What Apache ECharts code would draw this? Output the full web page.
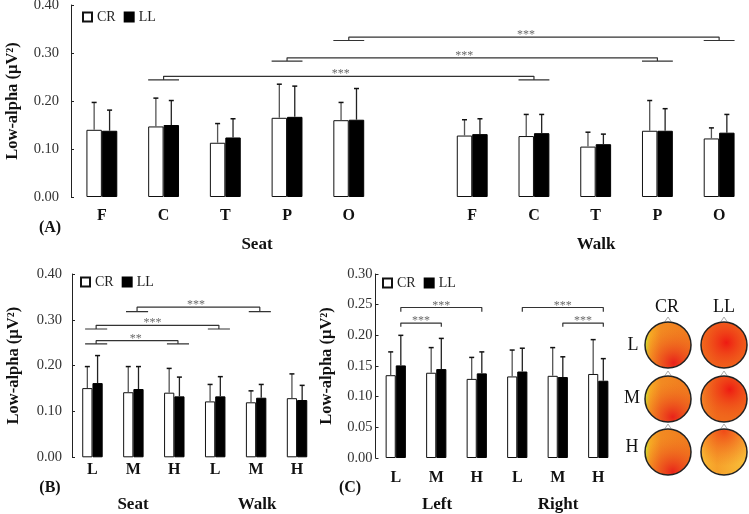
<!DOCTYPE html>
<html>
<head>
<meta charset="utf-8">
<script src="https://cdn.jsdelivr.net/npm/echarts@6/dist/echarts.min.js"></script>
<style>
  html, body { margin: 0; padding: 0; background: #fff; }
  #main { width: 749px; height: 514px; }
</style>
</head>
<body>
<div id="main"></div>
<script>
// ---- panel A : lobes, seat vs walk ('' = empty gap slot)
const catsA = ['F', 'C', 'T', 'P', 'O', '', 'F', 'C', 'T', 'P', 'O']
const crA   = [0.140, 0.147, 0.113, 0.165, 0.160, null, 0.128, 0.127, 0.105, 0.138, 0.122]
const crSdA = [0.057, 0.059, 0.040, 0.070, 0.037, null, 0.033, 0.045, 0.030, 0.063, 0.022]
const llA   = [0.138, 0.150, 0.124, 0.167, 0.161, null, 0.131, 0.133, 0.110, 0.138, 0.134]
const llSdA = [0.043, 0.051, 0.039, 0.064, 0.065, null, 0.032, 0.039, 0.021, 0.046, 0.038]
// [from, to, low, high, starX, stars]
const sigA = [
  [1, 7, 0.244, 0.2515, 3.87, '***'],
  [3, 9, 0.283, 0.290, 5.87, '***'],
  [4, 10, 0.326, 0.333, 6.87, '***']
]

// ---- panel B : load, seat vs walk
const catsB = ['L', 'M', 'H', 'L', 'M', 'H']
const crB   = [0.151, 0.142, 0.141, 0.122, 0.120, 0.129]
const crSdB = [0.047, 0.056, 0.053, 0.037, 0.025, 0.053]
const llB   = [0.162, 0.149, 0.133, 0.133, 0.130, 0.125]
const llSdB = [0.060, 0.049, 0.042, 0.043, 0.029, 0.032]
const sigB = [
  [0, 2, 0.2474, 0.2546, 1.06, '**'],
  [0, 3, 0.280, 0.288, 1.47, '***'],
  [1, 4, 0.318, 0.3275, 2.53, '***']
]

// ---- panel C : load, left vs right
const catsC = ['L', 'M', 'H', 'L', 'M', 'H']
const crC   = [0.135, 0.139, 0.129, 0.133, 0.134, 0.137]
const crSdC = [0.038, 0.041, 0.035, 0.043, 0.046, 0.056]
const llC   = [0.151, 0.145, 0.138, 0.141, 0.132, 0.126]
const llSdC = [0.049, 0.050, 0.035, 0.038, 0.033, 0.036]
const sigC = [
  [0, 2, 0.2383, 0.2454, 1.125, '***'],
  [0, 1, 0.214, 0.220, 0.625, '***'],
  [3, 5, 0.2383, 0.2454, 4.125, '***'],
  [4, 5, 0.214, 0.220, 4.625, '***']
]

const serif = '"Liberation Serif", "Times New Roman", serif'
const yName = 'Low-alpha (µV²)'

const chart = echarts.init(document.getElementById('main'))

// x axes: category (shown) + hidden value axis for brackets / error bars
const catAxis = (grid, data, margin) => ({
  type: 'category', gridIndex: grid, data,
  axisLine: { show: false }, axisTick: { show: false },
  axisLabel: { margin, fontFamily: serif, fontWeight: 'bold', fontSize: 16, color: '#111' }
})
const valAxis = (grid, n) => ({ type: 'value', gridIndex: grid, min: -0.5, max: n - 0.5, show: false })
const yAxis = (grid, max, interval, gap, margin) => ({
  type: 'value', gridIndex: grid, min: 0, max, interval,
  name: yName, nameLocation: 'middle', nameGap: gap,
  nameTextStyle: { fontFamily: serif, fontWeight: 'bold', fontSize: 16.5, color: '#111' },
  axisLine: { show: true, onZero: false, lineStyle: { color: '#222', width: 1 } },
  axisTick: { show: true, inside: true, length: 3, lineStyle: { color: '#222' } },
  splitLine: { show: false },
  axisLabel: { margin, fontFamily: serif, fontSize: 14.5, color: '#333', formatter: v => v.toFixed(2) }
})

const bars = (x, y, cr, ll) => [
  { name: 'CR', type: 'bar', xAxisIndex: x, yAxisIndex: y, data: cr, barWidth: '25%', barGap: '0%',
    itemStyle: { color: '#fff', borderColor: '#111', borderWidth: 1 } },
  { name: 'LL', type: 'bar', xAxisIndex: x, yAxisIndex: y, data: ll, barWidth: '25%', barGap: '0%',
    itemStyle: { color: '#000', borderColor: '#000', borderWidth: 1 } }
]

// error bars (upper half only) drawn on hidden value axis
const errBars = (x, y, means, sds, shift, color) => ({
  type: 'custom', xAxisIndex: x, yAxisIndex: y, z: 5,
  data: means.map((m, i) => [i + shift, m, m + sds[i]]).filter(d => d[1] != null),
  renderItem: (params, api) => {
    const b = api.coord([api.value(0), api.value(1)])
    const t = api.coord([api.value(0), api.value(2)])
    return {
      type: 'group',
      children: [
        { type: 'line', shape: { x1: b[0], y1: b[1], x2: t[0], y2: t[1] }, style: { stroke: color, lineWidth: 1.3 } },
        { type: 'line', shape: { x1: t[0] - 2.5, y1: t[1], x2: t[0] + 2.5, y2: t[1] }, style: { stroke: '#111', lineWidth: 1.5 } }
      ]
    }
  }
})

// bracket with short bars spanning the pair (panels A and B)
const pairBracket = (x, y, s, l0, l1, c) => ({
  type: 'line', xAxisIndex: x, yAxisIndex: y, symbol: 'none', silent: true,
  lineStyle: { color: '#333', width: 1.2 },
  data: [[s[0] + l0, s[2]], [s[0] + l1, s[2]], [s[0] + c, s[2]], [s[0] + c, s[3]],
         [s[1] + c, s[3]], [s[1] + c, s[2]], [s[1] + l0, s[2]], [s[1] + l1, s[2]]]
})
// plain bracket with downward ends (panel C)
const hookBracket = (x, y, s) => ({
  type: 'line', xAxisIndex: x, yAxisIndex: y, symbol: 'none', silent: true,
  lineStyle: { color: '#333', width: 1.2 },
  data: [[s[0] + 0.125, s[2]], [s[0] + 0.125, s[3]], [s[1] + 0.125, s[3]], [s[1] + 0.125, s[2]]]
})
const stars = (x, y, sig) => ({
  type: 'scatter', xAxisIndex: x, yAxisIndex: y, symbolSize: 0, silent: true,
  data: sig.map(s => [s[4], s[3], s[5]]),
  label: { show: true, position: 'inside', offset: [0, -2], formatter: p => p.value[2],
           fontFamily: serif, fontSize: 12, color: '#444' }
})

const legend = (left, top) => ({
  data: ['CR', 'LL'], left, top, padding: 0, itemGap: 8, icon: 'rect',
  itemWidth: 9, itemHeight: 9,
  textStyle: { fontFamily: serif, fontSize: 14, color: '#222' }
})

// topographic head maps (decorative)
const heads = [
  { x: 668, y: 345, base: ['#c8e030', '#f6a824', '#f28a22', '#f07a1e'], hot: [0.62, 0.88, '#e8201a'] },
  { x: 724, y: 345, base: ['#f27020', '#f06a1c', '#f0601c', '#f06a1c'], hot: [0.55, 0.45, '#ee1a12'] },
  { x: 668, y: 399, base: ['#c8e030', '#f6a824', '#f28a22', '#f07a1e'], hot: [0.6, 0.88, '#e8221a'] },
  { x: 724, y: 399, base: ['#f38a2a', '#f17a22', '#f06a1c', '#f06a1c'], hot: [0.62, 0.3, '#ee1a12'] },
  { x: 668, y: 452, base: ['#c8e030', '#f6a824', '#f28a22', '#f07a1e'], hot: [0.6, 0.92, '#e8241a'] },
  { x: 724, y: 452, base: ['#f8c03a', '#f8b02e', '#f6a02a', '#f8c03a'], hot: [0.5, 0.05, '#f04a18'] }
]
const headGraphics = []
heads.forEach(h => {
  headGraphics.push({
    type: 'polygon', shape: { points: [[h.x - 4, h.y - 22], [h.x, h.y - 28], [h.x + 4, h.y - 22]] },
    style: { fill: '#fff', stroke: '#aaa', lineWidth: 1 }
  })
  headGraphics.push({
    type: 'circle', shape: { cx: h.x, cy: h.y, r: 23 },
    style: {
      fill: { type: 'linear', x: 0, y: 0, x2: 1, y2: 0, colorStops: [
        { offset: 0, color: h.base[0] }, { offset: 0.12, color: h.base[1] },
        { offset: 0.35, color: h.base[2] }, { offset: 1, color: h.base[3] }] }
    }
  })
  headGraphics.push({
    type: 'circle', shape: { cx: h.x, cy: h.y, r: 23 },
    style: {
      fill: { type: 'radial', x: h.hot[0], y: h.hot[1], r: 0.75, colorStops: [
        { offset: 0, color: h.hot[2] }, { offset: 1, color: 'rgba(240,110,30,0)' }] },
      stroke: '#222', lineWidth: 1.5
    }
  })
})

const txt = (x, y, text, size, weight) => ({
  type: 'text', x, y,
  style: { text, font: `${weight} ${size}px ${serif}`, fill: '#111',
           align: 'center', verticalAlign: 'middle', textAlign: 'center', textVerticalAlign: 'middle' }
})

chart.setOption({
  animation: false,
  grid: [
    { left: 71, top: 5, width: 679, height: 192, outerBoundsMode: 'none', containLabel: false },
    { left: 72, top: 274, width: 245.5, height: 183.3, outerBoundsMode: 'none', containLabel: false },
    { left: 375.5, top: 274, width: 243, height: 184, outerBoundsMode: 'none', containLabel: false }
  ],
  legend: [legend(82, 10), legend(80, 275), legend(382, 276)],
  xAxis: [
    catAxis(0, catsA, 11), valAxis(0, catsA.length),
    catAxis(1, catsB, 5), valAxis(1, catsB.length),
    catAxis(2, catsC, 12), valAxis(2, catsC.length)
  ],
  yAxis: [
    yAxis(0, 0.4, 0.1, 50, 12),
    yAxis(1, 0.4, 0.1, 50, 10),
    yAxis(2, 0.3, 0.05, 40, 3)
  ],
  series: [
    ...bars(0, 0, crA, llA),
    errBars(1, 0, crA, crSdA, -0.125, '#555'),
    errBars(1, 0, llA, llSdA, 0.125, '#222'),
    ...sigA.map(s => pairBracket(1, 0, s, -0.25, 0.25, 0)),
    stars(1, 0, sigA),

    ...bars(2, 1, crB, llB),
    errBars(3, 1, crB, crSdB, -0.125, '#555'),
    errBars(3, 1, llB, llSdB, 0.125, '#222'),
    ...sigB.map(s => pairBracket(3, 1, s, -0.18, 0.36, 0.09)),
    stars(3, 1, sigB),

    ...bars(4, 2, crC, llC),
    errBars(5, 2, crC, crSdC, -0.125, '#555'),
    errBars(5, 2, llC, llSdC, 0.125, '#222'),
    ...sigC.map(s => hookBracket(5, 2, s)),
    stars(5, 2, sigC)
  ],
  graphic: [
    txt(50, 228, '(A)', 16, 'bold'),
    txt(257, 245, 'Seat', 17, 'bold'),
    txt(596, 245, 'Walk', 17, 'bold'),
    txt(50, 488, '(B)', 16, 'bold'),
    txt(133, 505, 'Seat', 17, 'bold'),
    txt(257, 505, 'Walk', 17, 'bold'),
    txt(350, 488, '(C)', 16, 'bold'),
    txt(437, 505, 'Left', 17, 'bold'),
    txt(558, 505, 'Right', 17, 'bold'),
    txt(667, 307, 'CR', 18, 'normal'),
    txt(724, 307, 'LL', 18, 'normal'),
    txt(633, 345, 'L', 18, 'normal'),
    txt(632, 398, 'M', 18, 'normal'),
    txt(632, 447, 'H', 18, 'normal'),
    ...headGraphics
  ]
})

window.addEventListener('resize', () => chart.resize())
</script>
</body>
</html>
